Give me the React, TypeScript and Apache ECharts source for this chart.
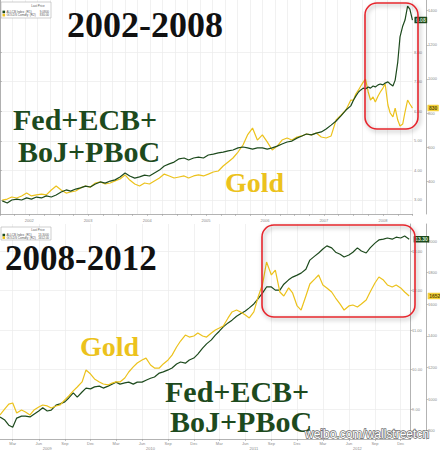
import React, { useEffect, useRef } from "react";
import * as echarts from "echarts";

// ---------------- data ----------------
const topDates = [
  "2002-01-15","2002-02-15","2002-03-15","2002-04-15","2002-05-15","2002-06-15","2002-07-15","2002-08-15","2002-09-15","2002-10-15","2002-11-15","2002-12-15",
  "2003-01-15","2003-02-15","2003-03-15","2003-04-15","2003-05-15","2003-06-15","2003-07-15","2003-08-15","2003-09-15","2003-10-15","2003-11-15","2003-12-15",
  "2004-01-15","2004-02-15","2004-03-15","2004-04-15","2004-05-15","2004-06-15","2004-07-15","2004-08-15","2004-09-15","2004-10-15","2004-11-15","2004-12-15",
  "2005-01-15","2005-02-15","2005-03-15","2005-04-15","2005-05-15","2005-06-15","2005-07-15","2005-08-15","2005-09-15","2005-10-15","2005-11-15","2005-12-15",
  "2006-01-15","2006-02-15","2006-03-15","2006-04-15","2006-05-15","2006-06-15","2006-07-15","2006-08-15","2006-09-15","2006-10-15","2006-11-15","2006-12-15",
  "2007-01-15","2007-02-15","2007-03-15","2007-04-15","2007-05-15","2007-06-15","2007-07-15","2007-08-15","2007-09-15","2007-10-15","2007-11-15","2007-12-15",
  "2008-01-01","2008-01-15","2008-02-01","2008-02-15","2008-03-01","2008-03-15","2008-04-01","2008-04-15","2008-05-01","2008-05-15","2008-06-01","2008-06-15",
  "2008-07-01","2008-07-15","2008-08-01","2008-08-15","2008-09-01","2008-09-15","2008-10-01","2008-10-15","2008-11-01","2008-11-15","2008-12-01","2008-12-15","2008-12-31",
];
const topCentralBanks = [
  2.97, 2.90, 3.00, 3.03, 3.00, 3.07, 3.03, 3.10, 3.07, 3.14, 3.10, 3.17,
  3.27, 3.34, 3.30, 3.37, 3.41, 3.47, 3.44, 3.54, 3.61, 3.57, 3.64, 3.68,
  3.78, 3.91, 3.81, 3.74, 3.78, 3.84, 3.81, 3.91, 4.01, 4.15, 4.22, 4.28,
  4.39, 4.42, 4.35, 4.42, 4.45, 4.42, 4.52, 4.55, 4.59, 4.62, 4.66, 4.69,
  4.76, 4.79, 4.76, 4.72, 4.76, 4.76, 4.72, 4.76, 4.82, 4.89, 4.96, 4.99,
  5.09, 5.16, 5.23, 5.20, 5.26, 5.30, 5.40, 5.53, 5.67, 5.84, 6.04, 6.18,
  6.38, 6.51, 6.65, 6.72, 6.78, 6.75, 6.82, 6.78, 6.85, 6.82, 6.89, 6.92,
  6.89, 6.95, 6.99, 6.92, 6.85, 7.05, 7.66, 8.51, 8.88, 9.08, 9.55, 9.45, 9.08,
];
const topGold = [
  292, 298, 310, 304, 316, 333, 316, 322, 327, 322, 351, 374,
  351, 333, 339, 345, 363, 374, 368, 392, 398, 386, 392, 404,
  415, 439, 409, 386, 374, 392, 386, 404, 421, 444, 433, 421,
  427, 433, 421, 433, 439, 433, 444, 456, 462, 491, 515, 538,
  573, 614, 673, 713, 643, 673, 632, 585, 608, 643, 655, 643,
  661, 667, 678, 673, 684, 661, 655, 667, 760, 789, 819, 877,
  877, 912, 936, 959, 982, 1000, 924, 877, 895, 865, 901, 924,
  947, 971, 848, 801, 778, 830, 760, 725, 737, 807, 877, 854, 830,
];

const bottomDates = [
  "2009-01-15","2009-02-01","2009-02-15","2009-03-01","2009-03-15","2009-04-01","2009-04-15","2009-05-01","2009-05-15","2009-06-01","2009-06-15","2009-07-01",
  "2009-07-15","2009-08-01","2009-08-15","2009-09-01","2009-09-15","2009-10-01","2009-10-15","2009-11-01","2009-11-15","2009-12-01","2009-12-15",
  "2010-01-01","2010-01-15","2010-02-01","2010-02-15","2010-03-01","2010-03-15","2010-04-01","2010-04-15","2010-05-01","2010-05-15","2010-06-01","2010-06-15",
  "2010-07-01","2010-07-15","2010-08-01","2010-08-15","2010-09-01","2010-09-15","2010-10-01","2010-10-15","2010-11-01","2010-11-15","2010-12-01","2010-12-15",
  "2011-01-01","2011-01-15","2011-02-01","2011-02-15","2011-03-01","2011-03-15","2011-04-01","2011-04-15","2011-05-01","2011-05-15","2011-06-01","2011-06-15",
  "2011-07-01","2011-07-15","2011-08-01","2011-08-15","2011-09-01","2011-09-15","2011-10-01","2011-10-15","2011-11-01","2011-11-15","2011-12-01","2011-12-15",
  "2012-01-01","2012-01-15","2012-02-01","2012-02-15","2012-03-01","2012-03-15","2012-04-01","2012-04-15","2012-05-01","2012-05-15","2012-06-01","2012-06-15",
  "2012-07-01","2012-07-15","2012-08-01","2012-08-15","2012-09-01","2012-09-15","2012-10-01","2012-10-15","2012-11-01","2012-11-15","2012-12-01","2012-12-15","2012-12-31",
];
const bottomCentralBanks = [
  8.80, 8.72, 8.59, 8.54, 8.77, 8.82, 8.82, 8.80, 8.87, 8.95, 9.03, 8.95,
  8.97, 9.10, 9.13, 9.18, 9.28, 9.41, 9.30, 9.43, 9.53, 9.51, 9.56, 9.58,
  9.53, 9.58, 9.63, 9.68, 9.63, 9.66, 9.68, 9.63, 9.68, 9.68, 9.73, 9.78,
  9.81, 9.91, 9.94, 9.99, 10.04, 10.14, 10.19, 10.16, 10.24, 10.29, 10.39, 10.54,
  10.65, 10.75, 10.87, 10.97, 11.08, 11.18, 11.25, 11.35, 11.41, 11.48, 11.56, 11.66,
  11.78, 11.94, 12.09, 12.09, 12.01, 12.01, 12.16, 12.27, 12.34, 12.39, 12.44, 12.54,
  12.77, 12.87, 12.95, 13.05, 13.13, 13.08, 12.97, 12.92, 12.85, 12.90, 12.97, 13.08,
  13.00, 12.95, 13.08, 13.20, 13.28, 13.30, 13.33, 13.30, 13.35, 13.33, 13.38, 13.30,
];
const bottomGold = [
  899, 937, 968, 975, 911, 930, 918, 899, 930, 949, 962, 956,
  943, 956, 962, 994, 1019, 1051, 1076, 1108, 1184, 1158, 1127, 1108,
  1095, 1089, 1101, 1108, 1108, 1133, 1171, 1203, 1228, 1247, 1259, 1215,
  1196, 1196, 1222, 1247, 1278, 1329, 1367, 1405, 1392, 1399, 1418, 1399,
  1392, 1418, 1437, 1449, 1462, 1513, 1551, 1563, 1551, 1532, 1513, 1551,
  1639, 1728, 1867, 1785, 1816, 1677, 1652, 1703, 1671, 1589, 1563, 1652,
  1728, 1759, 1785, 1722, 1703, 1677, 1639, 1601, 1563, 1589, 1595, 1582,
  1601, 1627, 1677, 1734, 1772, 1753, 1722, 1709, 1722, 1703, 1677, 1652,
];

// tick labels
const topYearLabels = ["2002", "2003", "2004", "2005", "2006", "2007", "2008"];
const topInnerTicks = [3, 4, 5, 6, 7, 8];
const topOuterTicks = [400, 600, 800, 1000, 1200, 1400];
const bottomYearLabels = ["2009", "2010", "2011", "2012"];
const quarterLabels = ["Mar", "Jun", "Sep", "Dec"];
const quarterMonths = ["03", "06", "09", "12"];
const bottomInnerTicks = [9, 10, 11, 12, 13];
const bottomOuterTicks = [800, 1000, 1200, 1400, 1600, 1800, 2000];

// ---------------- styling ----------------
const GREEN = "#1d4a1d";
const GOLD = "#ecc21c";
const AXIS = "#a0a0a0";
const GRIDC = "#ebebeb";
const SERIF = '"Liberation Serif", "Times New Roman", serif';
const SANS = '"Liberation Sans", Arial, sans-serif';

const ts = (s: string) => {
  const [y, m, d] = s.split("-").map(Number);
  return Date.UTC(y, m - 1, d);
};

const tickText = { fontSize: 4, color: "#8a8a8a", fontFamily: SANS };

function legendBox(y0: number, h: number, cbVal: string, goldVal: string) {
  const rowA = y0 + h * 0.62;
  const rowB = y0 + h * 0.82;
  const small = (text: string, x: number, y: number, align: string) => ({
    type: "text",
    z: 50,
    style: { text, x, y, fill: "#555", font: `3px ${SANS}`, align, verticalAlign: "middle" },
  });
  return [
    { type: "rect", z: 49, shape: { x: 1, y: y0, width: 50, height: h }, style: { fill: "#fff", stroke: "#b0b0b0", lineWidth: 0.6 } },
    small("Last Price", 38, y0 + h * 0.22, "center"),
    { type: "rect", z: 50, shape: { x: 2.5, y: rowA - 1.3, width: 2.6, height: 2.6 }, style: { fill: GREEN } },
    small("ALLCB Index  (R1)", 6.5, rowA, "left"),
    small(cbVal, 49, rowA, "right"),
    { type: "rect", z: 50, shape: { x: 2.5, y: rowB - 1.3, width: 2.6, height: 2.6 }, style: { fill: GOLD } },
    small("GOLDS Comdty  (R2)", 6.5, rowB, "left"),
    small(goldVal, 49, rowB, "right"),
  ];
}

function bigText(text: string, x: number, y: number, size: number, fill: string) {
  return {
    type: "text",
    z: 60,
    style: { text, x, y, fill, font: `bold ${size}px ${SERIF}`, align: "left", verticalAlign: "middle" },
  };
}

function redBox(x: number, y: number, w: number, h: number) {
  return {
    type: "rect",
    z: 55,
    shape: { x, y, width: w, height: h, r: 12 },
    style: {
      fill: "none",
      stroke: "#e5262e",
      lineWidth: 1.6,
      shadowBlur: 4,
      shadowColor: "rgba(0,0,0,0.35)",
      shadowOffsetX: 1.5,
      shadowOffsetY: 2,
    },
  };
}

export default function App() {
  const ref = useRef<HTMLDivElement>(null);

  useEffect(() => {
    if (!ref.current) return;
    const chart = echarts.init(ref.current, undefined, { renderer: "svg" });

    const topYearMid = topYearLabels.map((y) => ts(`${y}-07-01`));
    const topQuarterTicks: number[] = [];
    topYearLabels.forEach((y) => ["01", "04", "07", "10"].forEach((m) => topQuarterTicks.push(ts(`${y}-${m}-01`))));
    topQuarterTicks.push(ts("2009-01-01"));

    const bottomQuarterTicks: number[] = [];
    const bottomQuarterNames: string[] = [];
    bottomYearLabels.forEach((y) =>
      quarterMonths.forEach((m, i) => {
        bottomQuarterTicks.push(ts(`${y}-${m}-01`));
        bottomQuarterNames.push(quarterLabels[i]);
      })
    );
    const bottomYearMid = bottomYearLabels.map((y) => ts(`${y}-07-01`));

    const lookup = (vals: number[], names: string[]) => (v: number) => {
      let best = 0;
      let bd = Infinity;
      vals.forEach((t, i) => {
        const d = Math.abs(t - v);
        if (d < bd) {
          bd = d;
          best = i;
        }
      });
      return names[best] ?? "";
    };

    const lastTopCB = topCentralBanks[topCentralBanks.length - 1];
    const lastTopGold = topGold[topGold.length - 1];
    const lastBotCB = bottomCentralBanks[bottomCentralBanks.length - 1];
    const lastBotGold = bottomGold[bottomGold.length - 1];

    const tag = (bg: string, fg: string, distance: number, text: string) => ({
      show: true,
      distance,
      formatter: () => text,
      fontSize: 5,
      fontFamily: SANS,
      fontWeight: "bold",
      color: fg,
      backgroundColor: bg,
      padding: [1, 1.5, 0.5, 1.5],
      borderRadius: 0.5,
    });

    const lineSeries = (
      name: string,
      dates: string[],
      values: number[],
      xi: number,
      yi: number,
      color: string,
      endLabel: any,
      z: number
    ) => ({
      type: "line",
      name,
      xAxisIndex: xi,
      yAxisIndex: yi,
      data: dates.map((d, i) => [ts(d), values[i]]),
      showSymbol: false,
      symbol: "none",
      silent: true,
      z,
      lineStyle: { color, width: 1.2 },
      itemStyle: { color },
      endLabel,
      emphasis: { disabled: true },
    });

    const yAxisBase = (gridIndex: number, offset: number, min: number, max: number, ticks: number[], fmt: (v: number) => string, split: boolean) => ({
      type: "value",
      gridIndex,
      position: "right",
      offset,
      min,
      max,
      axisLine: { show: true, lineStyle: { color: AXIS, width: 0.8 } },
      axisTick: { show: true, customValues: ticks, length: 2, lineStyle: { color: AXIS, width: 0.6 } },
      axisLabel: { show: true, customValues: ticks, formatter: fmt, margin: 1.5, ...tickText },
      splitLine: { show: split, lineStyle: { color: GRIDC, width: 0.7 } },
    });

    const option: any = {
      animation: false,
      backgroundColor: "#ffffff",
      grid: [
        { left: 0, top: 0, width: 413, height: 214 },
        { left: 0, top: 224, width: 413, height: 215 },
      ],
      xAxis: [
        {
          type: "value",
          gridIndex: 0,
          position: "bottom",
          min: ts("2002-01-01"),
          max: ts("2009-01-01"),
          axisLine: { show: true, lineStyle: { color: AXIS, width: 0.8 } },
          axisTick: { show: true, customValues: topQuarterTicks, length: 2, lineStyle: { color: AXIS, width: 0.6 } },
          axisLabel: { show: true, customValues: topYearMid, formatter: lookup(topYearMid, topYearLabels), margin: 4, ...tickText },
          splitLine: { show: false },
        },
        {
          type: "value",
          gridIndex: 0,
          position: "bottom",
          min: 0,
          max: 33,
          interval: 1,
          axisLine: { show: false },
          axisTick: { show: false },
          axisLabel: { show: false },
          splitLine: { show: true, lineStyle: { color: GRIDC, width: 0.7 } },
        },
        {
          type: "value",
          gridIndex: 1,
          position: "bottom",
          min: ts("2009-01-15"),
          max: ts("2013-01-05"),
          axisLine: { show: true, lineStyle: { color: AXIS, width: 0.8 } },
          axisTick: { show: true, customValues: bottomQuarterTicks, length: 2, lineStyle: { color: AXIS, width: 0.6 } },
          axisLabel: { show: true, customValues: bottomQuarterTicks, formatter: lookup(bottomQuarterTicks, bottomQuarterNames), margin: 2, ...tickText },
          splitLine: { show: true, lineStyle: { color: GRIDC, width: 0.7 } },
        },
        {
          type: "value",
          gridIndex: 1,
          position: "bottom",
          min: ts("2009-01-15"),
          max: ts("2013-01-05"),
          axisLine: { show: false },
          axisTick: { show: false },
          axisLabel: { show: true, customValues: bottomYearMid, formatter: lookup(bottomYearMid, bottomYearLabels), margin: 7, ...tickText },
          splitLine: { show: false },
        },
      ],
      yAxis: [
        yAxisBase(0, 0, 2.527, 9.757, topInnerTicks, (v) => v.toFixed(2), true),
        yAxisBase(0, 14, 210.5, 1462.0, topOuterTicks, (v) => String(v), false),
        yAxisBase(1, 0, 8.241, 13.684, bottomInnerTicks, (v) => v.toFixed(2), true),
        yAxisBase(1, 16, 746.9, 2107.6, bottomOuterTicks, (v) => String(v), false),
      ],
      series: [
        lineSeries("Gold", topDates, topGold, 0, 1, GOLD, tag("#f3d03c", "#5c4b00", 15, String(lastTopGold)), 2),
        lineSeries("Fed+ECB+BoJ+PBoC", topDates, topCentralBanks, 0, 0, GREEN, tag(GREEN, "#d8f0d8", 2, lastTopCB.toFixed(2)), 3),
        lineSeries("Gold", bottomDates, bottomGold, 2, 3, GOLD, tag("#f3d03c", "#5c4b00", 18.5, String(lastBotGold)), 3),
        lineSeries("Fed+ECB+BoJ+PBoC", bottomDates, bottomCentralBanks, 2, 2, GREEN, tag(GREEN, "#d8f0d8", 4.5, lastBotCB.toFixed(2)), 2),
      ],
      graphic: [
        ...legendBox(2, 16, lastTopCB.toFixed(4), lastTopGold.toFixed(2)),
        ...legendBox(227, 13, lastBotCB.toFixed(4), lastBotGold.toFixed(2)),
        redBox(365, 3, 53, 126),
        redBox(262, 225, 153, 92),
        bigText("2002-2008", 67, 25, 36, "#111111"),
        bigText("Fed+ECB+", 13, 119, 30, GREEN),
        bigText("BoJ+PBoC", 18, 151, 30, GREEN),
        bigText("Gold", 225, 182.5, 28, GOLD),
        bigText("2008-2012", 5, 258.5, 35, "#111111"),
        bigText("Gold", 80, 346.5, 28, GOLD),
        bigText("Fed+ECB+", 165, 391, 30, GREEN),
        bigText("BoJ+PBoC", 170, 421.5, 30, GREEN),
        {
          type: "text",
          z: 70,
          style: {
            text: "weibo.com/wallstreetcn",
            x: 305,
            y: 433.5,
            fill: "#ffffff",
            stroke: "#6a6a6a",
            lineWidth: 1.3,
            font: `12px ${SANS}`,
            align: "left",
            verticalAlign: "middle",
          },
        },
      ],
    };

    chart.setOption(option);
    return () => chart.dispose();
  }, []);

  return (
    <div
      ref={ref}
      style={{ position: "absolute", left: 0, top: 0, width: 440, height: 450, background: "#ffffff" }}
    />
  );
}
